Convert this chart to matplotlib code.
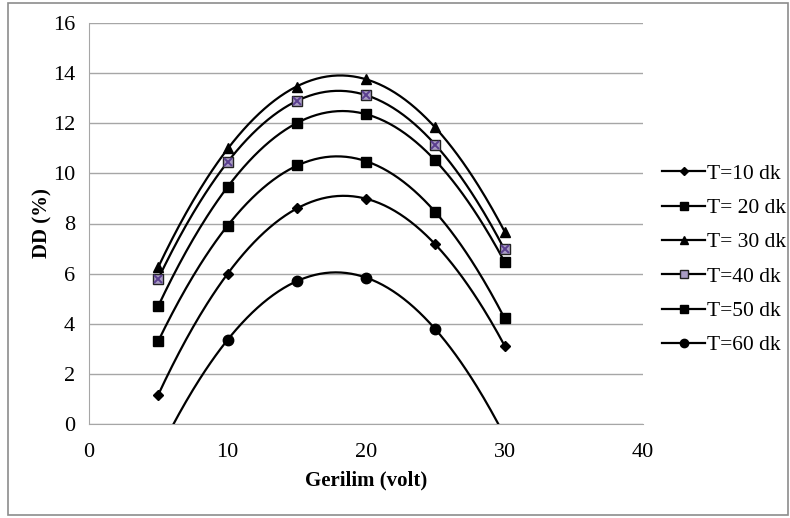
import numpy as np
import matplotlib
matplotlib.use('Agg')
import matplotlib.pyplot as plt
from matplotlib.lines import Line2D
from matplotlib.patches import Rectangle

plt.rcParams['font.family'] = ['Liberation Serif', 'DejaVu Serif']

# Gerilim (volt) and DD (%)
voltage = [5, 10, 15, 20, 25, 30]
voltage_t60 = [10, 15, 20, 25]
dd_t10 = [1.16, 6.0, 8.6, 8.97, 7.18, 3.13]
dd_t20 = [3.31, 7.9, 10.32, 10.47, 8.47, 4.22]
dd_t30 = [6.25, 11.0, 13.44, 13.75, 11.85, 7.68]
dd_t40 = [5.79, 10.45, 12.9, 13.12, 11.13, 6.97]
dd_t50 = [4.71, 9.45, 12.0, 12.37, 10.52, 6.47]
dd_t60 = [3.35, 5.71, 5.83, 3.79]
labels = ['T=10 dk', 'T= 20 dk', 'T= 30 dk', 'T=40 dk', 'T=50 dk', 'T=60 dk']

series = [
    (voltage, dd_t10, dict(marker='D', ms=5)),
    (voltage, dd_t20, dict(marker='s', ms=7.5)),
    (voltage, dd_t30, dict(marker='^', ms=7)),
    (voltage, dd_t40, dict(marker='s', ms=7, mfc='#a99cc4', mec='#222222')),
    (voltage, dd_t50, dict(marker='s', ms=7.5)),
    (voltage_t60, dd_t60, dict(marker='o', ms=7.5)),
]

fig = plt.figure(figsize=(7.9, 5.18), dpi=100)
ax = fig.add_axes([89 / 790, 1 - 424 / 518, 554 / 790, 401 / 518])

handles = []
for (xs, ys, style), lab in zip(series, labels):
    # quadratic trendline, as in the original Excel chart
    coef = np.polyfit(xs, ys, 2)
    xx = np.linspace(5, 30, 200)
    ax.plot(xx, np.polyval(coef, xx), color='black', lw=1.6, zorder=3)
    kw = dict(color='black', mfc='black', mec='black')
    kw.update(style)
    ax.plot(xs, ys, ls='none', zorder=4, **kw)
    if lab == 'T=40 dk':
        ax.plot(xs, ys, ls='none', marker='x', ms=5.5, mew=1.4, color='#5b3f8f', zorder=5)
    hk = {k: v for k, v in kw.items() if k != 'color'}
    hk['ms'] = style['ms'] * 0.8
    handles.append(Line2D([], [], color='black', lw=1.6, **hk))

ax.set_xlim(0, 40)
ax.set_ylim(0, 16)
ax.set_xticks(range(0, 41, 10))
ax.set_yticks(range(0, 17, 2))
ax.yaxis.grid(True, color='#a6a6a6', lw=1)
ax.set_axisbelow(True)
for side in ['top', 'right']:
    ax.spines[side].set_visible(False)
ax.spines['left'].set_color('#a6a6a6')
ax.spines['bottom'].set_color('#a6a6a6')
ax.tick_params(length=0, labelsize=16)
ax.tick_params(axis='x', pad=14)
ax.tick_params(axis='y', pad=10)
ax.set_xlabel('Gerilim (volt)', fontsize=15, fontweight='bold', labelpad=6)
ax.set_ylabel('DD (%)', fontsize=15, fontweight='bold', labelpad=0)

ax.legend(handles, labels, loc='center left', bbox_to_anchor=(1.0, 0.41),
          frameon=False, fontsize=15.5, handlelength=2.0, handletextpad=0.05,
          labelspacing=0.66)

fig.patches.append(Rectangle((8 / 790, 3 / 518), 780 / 790, 512 / 518,
                             transform=fig.transFigure, fill=False,
                             edgecolor='#8c8c8c', lw=1.2))

fig.savefig('out.png', dpi=100)
